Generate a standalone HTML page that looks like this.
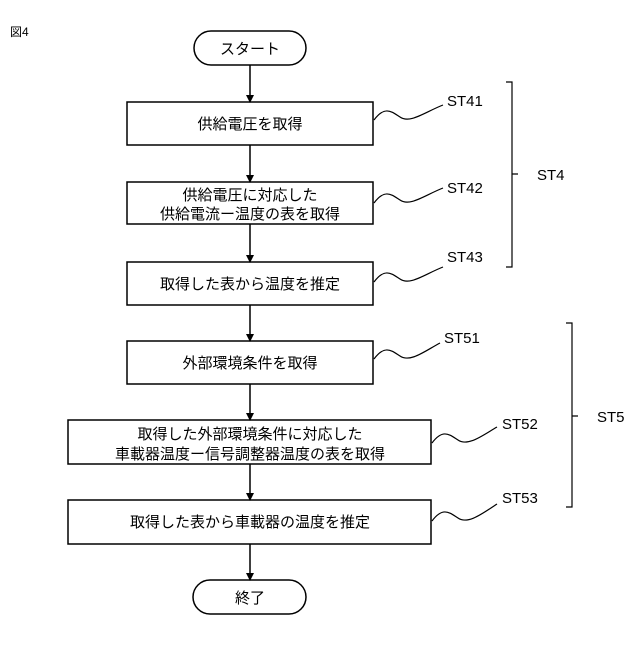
<!DOCTYPE html>
<html><head><meta charset="utf-8"><style>
body{margin:0;background:#fff}
svg text{font-family:"Liberation Sans","Noto Sans CJK JP",sans-serif;fill:#000}
</style></head><body>
<svg width="640" height="640" viewBox="0 0 640 640" xmlns="http://www.w3.org/2000/svg">
<defs><marker id="a" markerWidth="8" markerHeight="8" refX="7" refY="4" orient="auto" markerUnits="userSpaceOnUse"><path d="M0,0 L8,4 L0,8 z" fill="#000"/></marker></defs>
<text x="10" y="36" font-size="12">図4</text>
<g fill="none" stroke="#000" stroke-width="1.5">
<rect x="194" y="31" width="112" height="34" rx="17"/>
<rect x="127" y="102" width="246" height="43"/>
<rect x="127" y="182" width="246" height="42"/>
<rect x="127" y="262" width="246" height="43"/>
<rect x="127" y="341" width="246" height="43"/>
<rect x="68" y="420" width="363" height="44"/>
<rect x="68" y="500" width="363" height="44"/>
<rect x="193" y="580" width="113" height="34" rx="17"/>
<g marker-end="url(#a)">
<line x1="250" y1="65" x2="250" y2="102"/>
<line x1="250" y1="145" x2="250" y2="182"/>
<line x1="250" y1="224" x2="250" y2="262"/>
<line x1="250" y1="305" x2="250" y2="341"/>
<line x1="250" y1="384" x2="250" y2="420"/>
<line x1="250" y1="464" x2="250" y2="500"/>
<line x1="250" y1="544" x2="250" y2="580"/>
</g>
<g stroke-width="1.2">
<path d="M374,120 C385,105 392,112 400,117 C410,124 425,112 443,105"/>
<path d="M374,203 C385,188 392,195 400,200 C410,207 425,195 443,188"/>
<path d="M374,282 C385,267 392,274 400,279 C410,286 425,274 443,267"/>
<path d="M374,359 C385,344 392,351 400,356 C410,363 425,351 440,343"/>
<path d="M432,443 C443,428 450,435 458,440 C468,447 483,435 497,427"/>
<path d="M432,521 C443,506 450,513 458,518 C468,525 483,513 497,504"/>
<path d="M506,82 H512 V267 H506 M512,174 H518"/>
<path d="M566,323 H572 V507 H566 M572,416 H578"/>
</g>
</g>
<g font-size="15" text-anchor="middle">
<text x="250" y="54">スタート</text>
<text x="250" y="129">供給電圧を取得</text>
<text x="250" y="200">供給電圧に対応した</text>
<text x="250" y="219">供給電流ー温度の表を取得</text>
<text x="250" y="289">取得した表から温度を推定</text>
<text x="250" y="368">外部環境条件を取得</text>
<text x="250" y="439">取得した外部環境条件に対応した</text>
<text x="250" y="459">車載器温度ー信号調整器温度の表を取得</text>
<text x="250" y="527">取得した表から車載器の温度を推定</text>
<text x="250" y="603">終了</text>
</g>
<g font-size="15">
<text x="447" y="106">ST41</text>
<text x="447" y="193">ST42</text>
<text x="447" y="262">ST43</text>
<text x="537" y="180">ST4</text>
<text x="444" y="343">ST51</text>
<text x="502" y="429">ST52</text>
<text x="502" y="503">ST53</text>
<text x="597" y="422">ST5</text>
</g>
</svg>
</body></html>
